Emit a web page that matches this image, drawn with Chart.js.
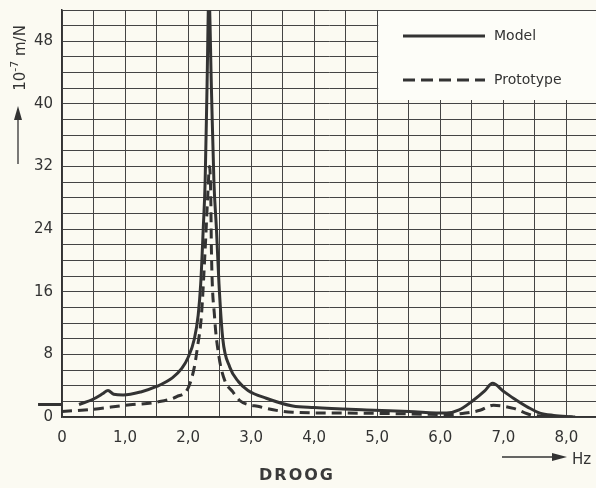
<!DOCTYPE html>
<html>
<head>
<meta charset="utf-8">
<script src="https://cdn.jsdelivr.net/npm/chart.js@4.4.1/dist/chart.umd.min.js"></script>
<style>
  html, body { margin: 0; padding: 0; background: #fbfaf2; }
  #wrap { width: 596px; height: 488px; }
</style>
</head>
<body>
<div id="wrap"><canvas id="droog"></canvas></div>
<script>
// frequency (Hz) and receptance (10^-7 m/N), dry condition
const modelHz = [0.27, 0.5, 0.65, 0.73, 0.82, 0.97, 1.25, 1.5, 1.75, 1.9, 2.0, 2.1, 2.16, 2.2, 2.24, 2.27, 2.3, 2.33,
  2.37, 2.41, 2.45, 2.49, 2.55, 2.66, 2.8, 2.95, 3.24, 3.66, 4.0, 4.83, 5.5, 6.1, 6.3, 6.52, 6.7, 6.83,
  7.0, 7.16, 7.4, 7.58, 7.8, 8.1];
const modelVal = [1.6, 2.3, 3.0, 3.4, 2.9, 2.8, 3.2, 3.9, 5.0, 6.2, 7.6, 10, 13, 17, 24, 30, 42, 54,
  42, 30, 24, 17, 10, 6.4, 4.5, 3.4, 2.4, 1.4, 1.2, 0.9, 0.7, 0.5, 0.9, 2.1, 3.3, 4.3,
  3.3, 2.4, 1.2, 0.5, 0.2, 0];

const protoHz = [0, 0.5, 1.0, 1.5, 1.82, 2.0, 2.1, 2.15, 2.21, 2.27, 2.31, 2.34, 2.36, 2.37, 2.42, 2.49, 2.58,
  2.71, 2.82, 3.14, 3.66, 4.5, 5.5, 6.1, 6.4, 6.63, 6.84, 7.16, 7.48, 8.14];
const protoVal = [0.7, 1.0, 1.5, 1.9, 2.6, 3.7, 6.4, 9, 12.8, 21.3, 28, 32, 28, 21.3, 12.8, 7.7, 4.7,
  3.2, 2.1, 1.3, 0.6, 0.5, 0.4, 0.3, 0.5, 0.86, 1.5, 1.1, 0.2, 0];

// static level marker left of the axis
const levelHz = [-0.38, 0];
const levelVal = [1.6, 1.6];

const seriesNames = ['Model', 'Prototype'];
const yLabelEvery = 8;

const ink = '#333';
const font = "'DejaVu Sans', sans-serif";

const pts = (xs, ys) => xs.map((x, i) => ({ x: x, y: ys[i] }));

// white panel with the legend entries, top right inside the grid
const legendPanel = {
  id: 'legendPanel',
  beforeDatasetsDraw(chart) {
    const { ctx, chartArea, scales } = chart;
    const x0 = scales.x.getPixelForValue(5.0) + 1;
    const y1 = scales.y.getPixelForValue(40.5);
    ctx.save();
    ctx.fillStyle = '#fdfdf8';
    ctx.fillRect(x0, chartArea.top + 1, chartArea.right - x0, y1 - chartArea.top - 1);
    ctx.font = '14px ' + font;
    ctx.textBaseline = 'middle';
    const rows = [36, 80];
    chart.data.datasets.slice(0, 2).forEach((ds, i) => {
      ctx.strokeStyle = ds.borderColor;
      ctx.lineWidth = ds.borderWidth;
      ctx.setLineDash(ds.borderDash ? [12, 6] : []);
      ctx.beginPath();
      ctx.moveTo(403, rows[i]);
      ctx.lineTo(485, rows[i]);
      ctx.stroke();
      ctx.setLineDash([]);
      ctx.fillStyle = ink;
      ctx.fillText(ds.label, 494, rows[i]);
    });
    ctx.restore();
  }
};

// axis titles with arrows and the caption below
const axisText = {
  id: 'axisText',
  afterDraw(chart) {
    const { ctx } = chart;
    ctx.save();
    ctx.fillStyle = ink;
    ctx.strokeStyle = ink;
    ctx.lineWidth = 1.3;

    // vertical: arrow up, then unit
    ctx.beginPath();
    ctx.moveTo(18, 164);
    ctx.lineTo(18, 118);
    ctx.stroke();
    ctx.beginPath();
    ctx.moveTo(18, 106);
    ctx.lineTo(14, 120);
    ctx.lineTo(22, 120);
    ctx.closePath();
    ctx.fill();
    ctx.translate(20, 58);
    ctx.rotate(-Math.PI / 2);
    ctx.textBaseline = 'middle';
    ctx.font = '15px ' + font;
    const base = '10';
    const sup = '-7';
    const unit = ' m/N';
    const wBase = ctx.measureText(base).width;
    const wUnit = ctx.measureText(unit).width;
    ctx.font = '11px ' + font;
    const wSup = ctx.measureText(sup).width;
    let x = -(wBase + wSup + wUnit) / 2;
    ctx.font = '15px ' + font;
    ctx.fillText(base, x, 1);
    x += wBase;
    ctx.font = '11px ' + font;
    ctx.fillText(sup, x, -5);
    x += wSup;
    ctx.font = '15px ' + font;
    ctx.fillText(unit, x, 1);
    ctx.setTransform(1, 0, 0, 1, 0, 0);

    // horizontal: arrow right, then Hz
    ctx.beginPath();
    ctx.moveTo(502, 457);
    ctx.lineTo(556, 457);
    ctx.stroke();
    ctx.beginPath();
    ctx.moveTo(567, 457);
    ctx.lineTo(552, 453);
    ctx.lineTo(552, 461);
    ctx.closePath();
    ctx.fill();
    ctx.textBaseline = 'middle';
    ctx.textAlign = 'left';
    ctx.font = '15px ' + font;
    ctx.fillText('Hz', 572, 460);

    ctx.textAlign = 'center';
    ctx.font = 'bold 16px ' + font;
    ctx.letterSpacing = '2px';
    ctx.fillStyle = '#3a3a3a';
    ctx.fillText('DROOG', 297, 476);
    ctx.restore();
  }
};

const paper = {
  id: 'paper',
  beforeDraw(chart) {
    const { ctx, width, height } = chart;
    ctx.save();
    ctx.fillStyle = '#fbfaf2';
    ctx.fillRect(0, 0, width, height);
    ctx.restore();
  }
};

new Chart(document.getElementById('droog'), {
  type: 'line',
  data: {
    datasets: [
      {
        label: seriesNames[0],
        data: pts(modelHz, modelVal),
        borderColor: ink,
        borderWidth: 3,
        pointRadius: 0,
        cubicInterpolationMode: 'monotone'
      },
      {
        label: seriesNames[1],
        data: pts(protoHz, protoVal),
        borderColor: ink,
        borderWidth: 3,
        borderDash: [10, 6],
        pointRadius: 0,
        cubicInterpolationMode: 'monotone'
      },
      {
        label: 'level',
        data: pts(levelHz, levelVal),
        borderColor: ink,
        borderWidth: 3,
        pointRadius: 0,
        clip: false
      }
    ]
  },
  options: {
    responsive: true,
    maintainAspectRatio: false,
    animation: false,
    events: [],
    layout: { padding: { top: 10, left: 0, right: 0, bottom: 0 } },
    plugins: {
      legend: { display: false },
      tooltip: { enabled: false }
    },
    scales: {
      x: {
        type: 'linear',
        min: 0,
        max: 8.47,
        afterFit: (s) => { s.height = 71; s.paddingLeft = 0; s.paddingRight = 0; },
        grid: { color: '#444', lineWidth: 1, drawTicks: false },
        border: { color: '#333', width: 1.5 },
        ticks: {
          stepSize: 0.5,
          includeBounds: false,
          autoSkip: false,
          maxRotation: 0,
          padding: 12,
          color: ink,
          font: { family: font, size: 15 },
          callback: (v) => (v % 1 === 0 ? (v === 0 ? '0' : v.toFixed(1).replace('.', ',')) : '')
        }
      },
      y: {
        min: 0,
        max: 52,
        afterFit: (s) => { s.width = 62; s.paddingTop = 0; s.paddingBottom = 0; },
        grid: { color: '#444', lineWidth: 1, drawTicks: false },
        border: { color: '#333', width: 1.5 },
        ticks: {
          stepSize: 2,
          autoSkip: false,
          padding: 9,
          color: ink,
          font: { family: font, size: 15 },
          callback: (v) => (v % yLabelEvery === 0 ? String(v) : '')
        }
      }
    }
  },
  plugins: [paper, legendPanel, axisText]
});
</script>
</body>
</html>
